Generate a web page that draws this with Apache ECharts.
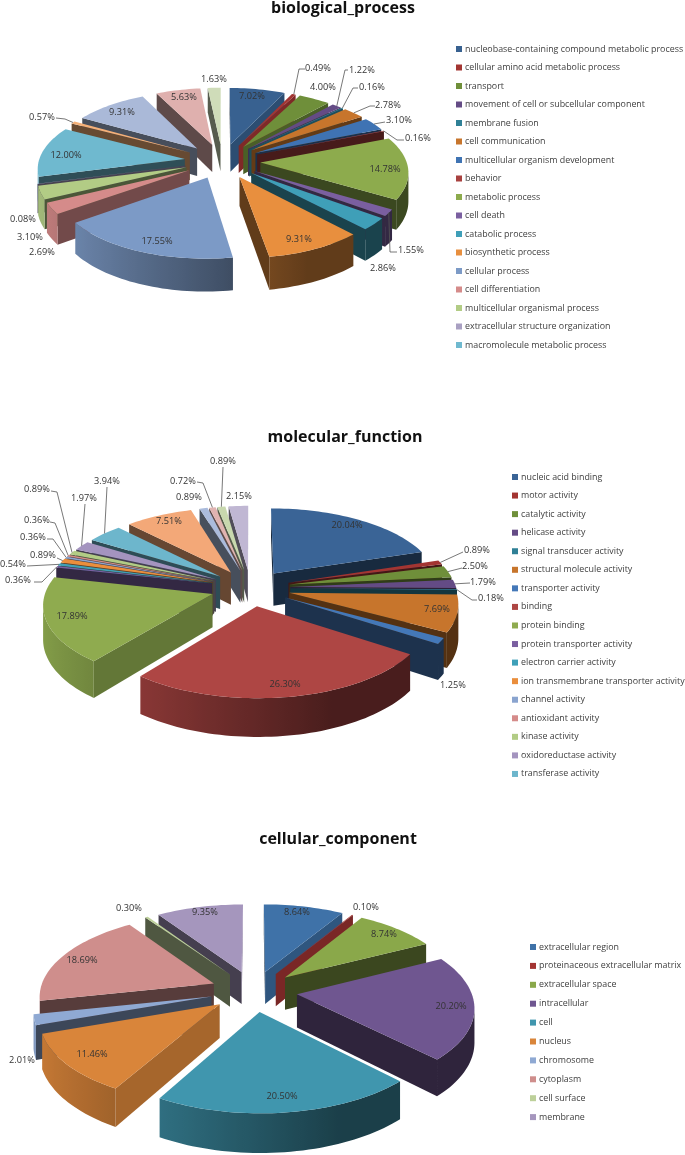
<!DOCTYPE html>
<html><head><meta charset="utf-8">
<style>html,body{margin:0;padding:0;background:#fff}#c{width:685px;height:1155px}</style>
<script src="https://cdn.jsdelivr.net/npm/echarts@6/dist/echarts.min.js"></script>
</head><body><div id="c"></div>
<script>
// ---------- data ----------
const bpTitle = 'biological_process';
const bpNames = ['nucleobase-containing compound metabolic process','cellular amino acid metabolic process','transport','movement of cell or subcellular component','membrane fusion','cell communication','multicellular organism development','behavior','metabolic process','cell death','catabolic process','biosynthetic process','cellular process','cell differentiation','multicellular organismal process','extracellular structure organization','macromolecule metabolic process'];
const bpValues = [7.02,0.49,4.00,1.22,0.16,2.78,3.10,0.16,14.78,1.55,2.86,9.31,17.55,2.69,3.10,0.08,12.00,0.57,9.31,5.63,1.63];
const bpColors = ['#386190','#a33532','#6f8f3a','#644b85','#2f8096','#c7752c','#3f73b3','#a8413f','#8dab4d','#7a5fa0','#3f9fb8','#e88f3e','#7c9ac6','#d58b8a','#b2cc85','#a9a0c2','#6fb9cf','#f5b078','#aab9d8','#dfb0ae','#cfdcb9'];

const mfTitle = 'molecular_function';
const mfNames = ['nucleic acid binding','motor activity','catalytic activity','helicase activity','signal transducer activity','structural molecule activity','transporter activity','binding','protein binding','protein transporter activity','electron carrier activity','ion transmembrane transporter activity','channel activity','antioxidant activity','kinase activity','oxidoreductase activity','transferase activity'];
const mfValues = [20.04,0.89,2.50,1.79,0.18,7.69,1.25,26.30,17.89,0.36,0.54,0.89,0.36,0.36,0.89,1.97,3.94,7.51,0.89,0.72,0.89,2.15];
const mfColors = ['#3a6496','#a33532','#6f8f3a','#644b85','#2f8096','#c7752c','#4478b8','#ae4644','#8fab4f','#7a5fa0','#3fa0b8','#ea8e3c','#8aa4cf','#d58b8a','#b2cc85','#a494bf','#6db6cc','#f3a878','#aabbdc','#e0b3b1','#c8d8ae','#c0b7d3'];

const ccTitle = 'cellular_component';
const ccNames = ['extracellular region','proteinaceous extracellular matrix','extracellular space','intracellular','cell','nucleus','chromosome','cytoplasm','cell surface','membrane'];
const ccValues = [8.64,0.10,8.74,20.20,20.50,11.46,2.01,18.69,0.30,9.35];
const ccColors = ['#3f72a8','#a33432','#8aa84a','#6f5690','#4096ae','#d9853a','#8fa9d3','#cf8e8c','#bdd09a','#a596bd'];

// ---------- layout (text placement and pie projection, not data) ----------
const bpLabelAt = [[252,96],[318,68],[323,87],[362,70],[372,87],[388,105],[399,120],[418,138],[385,169],[411,250],[383,268],[299,239],[157,241],[42,252],[30,237],[23,219],[66,155],[42,117],[122,112],[184,97],[214,79]];
const bpLeaders = {1:[[305,69],[299,69]],3:[[348,70],[345,70]],4:[[358,88],[353,88]],5:[[375,106],[370,106]],6:[[385,122]],7:[[404,140],[397,140]],9:[[397,252],[390,252]],17:[[56,118],[65,119]]};
const mfLabelAt = [[347,525],[477,550],[475,566],[483,582],[491,598],[437,609],[453,685],[285,684],[72,616],[18,580],[13,564],[43,555],[33,537],[37,520],[37,489],[84,498],[107,481],[169,521],[189,497],[183,481],[223,461],[239,496]];
const mfLeaders = {1:[[463,552]],2:[[462,568]],3:[[470,583]],4:[[477,600],[472,600]],9:[[34,582],[42,582]],10:[[27,566]],11:[[57,558]],12:[[47,539],[53,539]],13:[[50,522],[55,523]],14:[[51,491],[57,492]],15:[[85,504]],16:[[107,487]],19:[[197,482],[203,483]],20:[[223,467]]};
const ccLabelAt = [[297,912],[366,907],[384,934],[451,1006],[282,1096],[92,1054],[22,1060],[82,960],[129,908],[205,912]];

const pies = [
  {title:bpTitle,titleX:343,titleY:0,names:bpNames,values:bpValues,colors:bpColors,labelAt:bpLabelAt,leaders:bpLeaders,
   cx:222.4,cy:161,R:146,Ry:67,E:0.26,persp:0.12,D:28,legendX:456,legendY:43,legendGap:6.5},
  {title:mfTitle,titleX:345,titleY:429,names:mfNames,values:mfValues,colors:mfColors,labelAt:mfLabelAt,leaders:mfLeaders,
   cx:250.5,cy:587.8,R:166,Ry:76,E:0.24,persp:0.12,D:33,legendX:512,legendY:471,legendGap:6.56},
  {title:ccTitle,titleX:338,titleY:831,names:ccNames,values:ccValues,colors:ccColors,labelAt:ccLabelAt,leaders:{},
   cx:253.8,cy:991,R:174,Ry:81.5,E:0.25,persp:0.135,D:33,legendX:530,legendY:941,legendGap:6.9}
];
const FONT = '"Open Sans"';

// ---------- helpers ----------
const clamp=(v,a,b)=>Math.max(a,Math.min(b,v));
function shade(hex,f){
  const n=parseInt(hex.slice(1),16);
  const c=[n>>16&255,n>>8&255,n&255].map(v=>Math.round(v*f));
  return 'rgb('+c.join(',')+')';
}
function rimFactor(nx){return clamp(0.56-0.365*nx,0.42,0.95);}
function cutFactor(nx){return clamp(0.42+(nx-0.45)*0.82,0.42,0.9);}
function area(pts){let s=0;for(let i=0;i<pts.length;i++){const a=pts[i],b=pts[(i+1)%pts.length];s+=a[0]*b[1]-b[0]*a[1];}return s;}

function geometry(pie,index){
  const total=pie.values.reduce((a,b)=>a+b,0);
  let before=0;for(let i=0;i<index;i++)before+=pie.values[i];
  const t0=before/total*2*Math.PI, t1=(before+pie.values[index])/total*2*Math.PI, tm=(t0+t1)/2;
  const ox=pie.E*Math.sin(tm), oy=-pie.E*Math.cos(tm);
  const project=(X,Y,down)=>{const w=1/(1-pie.persp*Y);return [pie.cx+pie.R*X*w,pie.cy+pie.Ry*Y*w+pie.D*down*w];};
  const at=(r,t,down)=>project(ox+r*Math.sin(t),oy-r*Math.cos(t),down);
  return {t0,t1,tm,at};
}

function renderSlice(pie,index,api){
  const g=geometry(pie,index), color=pie.colors[index], children=[];
  const steps=Math.max(2,Math.ceil((g.t1-g.t0)/0.03));
  const arc=[];for(let i=0;i<=steps;i++)arc.push(g.t0+(g.t1-g.t0)*i/steps);
  // cut faces
  const startWall=[g.at(0,0,0),g.at(1,g.t0,0),g.at(1,g.t0,1),g.at(0,0,1)];
  if(area(startWall)<0)children.push({type:'polygon',shape:{points:startWall},style:{fill:shade(color,cutFactor(-Math.cos(g.t0)))}});
  const endWall=[g.at(0,0,0),g.at(1,g.t1,0),g.at(1,g.t1,1),g.at(0,0,1)];
  if(area(endWall)>0)children.push({type:'polygon',shape:{points:endWall},style:{fill:shade(color,cutFactor(Math.cos(g.t1)))}});
  // outer wall: the run of arc segments that face the viewer
  const run=[];
  for(let i=0;i<steps;i++){
    const q=[g.at(1,arc[i],0),g.at(1,arc[i+1],0),g.at(1,arc[i+1],1),g.at(1,arc[i],1)];
    if(area(q)<0){if(!run.length)run.push(arc[i]);run.push(arc[i+1]);}
  }
  if(run.length>1){
    const pts=run.map(t=>g.at(1,t,0)).concat(run.slice().reverse().map(t=>g.at(1,t,1)));
    const xs=run.map(t=>g.at(1,t,0)[0]);
    const minX=Math.min(...xs),maxX=Math.max(...xs);
    const stops=run.map(t=>({offset:maxX>minX?clamp((g.at(1,t,0)[0]-minX)/(maxX-minX),0,1):0,color:shade(color,rimFactor(Math.sin(t)))})).sort((a,b)=>a.offset-b.offset);
    children.push({type:'polygon',shape:{points:pts},style:{fill:new echarts.graphic.LinearGradient(0,0,1,0,stops)}});
  }
  // top face
  children.push({type:'polygon',shape:{points:[g.at(0,0,0)].concat(arc.map(t=>g.at(1,t,0)))},style:{fill:color}});
  return {type:'group',children};
}

function renderLabel(pie,index,api){
  const children=[], g=geometry(pie,index), pos=pie.labelAt[index];
  const leader=pie.leaders[index];
  if(leader){
    children.push({type:'polyline',shape:{points:leader.concat([g.at(1,g.tm,0)])},style:{fill:null,stroke:'#555',lineWidth:0.8}});
  }
  children.push({type:'text',x:pos[0],y:pos[1],style:{text:api.value(0).toFixed(2)+'%',font:'9.2px '+FONT,fill:'#333',align:'center',verticalAlign:'middle'}});
  return {type:'group',children};
}

// ---------- option ----------
const series=[], titles=[], legends=[];
pies.forEach((pie,pi)=>{
  titles.push({text:pie.title,left:pie.titleX,top:pie.titleY,textAlign:'center',padding:0,textStyle:{fontFamily:FONT,fontWeight:'bold',fontSize:16,color:'#111'}});
  legends.push({orient:'vertical',left:pie.legendX,top:pie.legendY,padding:0,itemWidth:6,itemHeight:6,itemGap:pie.legendGap,selectedMode:false,
    icon:'rect',data:pie.names,textStyle:{fontFamily:FONT,fontSize:8.9,lineHeight:12,color:'#404040',padding:[0,0,0,-2]}});
  const order=pie.values.map((v,i)=>{const g=geometry(pie,i);return {i,y:-Math.cos(g.tm)};}).sort((a,b)=>a.y-b.y);
  order.forEach((o,rank)=>{
    series.push({type:'custom',coordinateSystem:'none',name:pie.names[o.i]||(pie.title+' '+(o.i+1)),silent:true,animation:false,z:10+rank,
      itemStyle:{color:pie.colors[o.i]},data:[[pie.values[o.i]]],
      renderItem:(p,api)=>renderSlice(pie,o.i,api)});
  });
  series.push({type:'custom',coordinateSystem:'none',name:pie.title+' labels',silent:true,animation:false,z:100,
    data:pie.values.map(v=>[v]),renderItem:(p,api)=>renderLabel(pie,p.dataIndex,api)});
});
const chart=echarts.init(document.getElementById('c'),null,{renderer:'canvas'});
chart.setOption({backgroundColor:'#fff',animation:false,title:titles,legend:legends,series});
</script></body></html>
